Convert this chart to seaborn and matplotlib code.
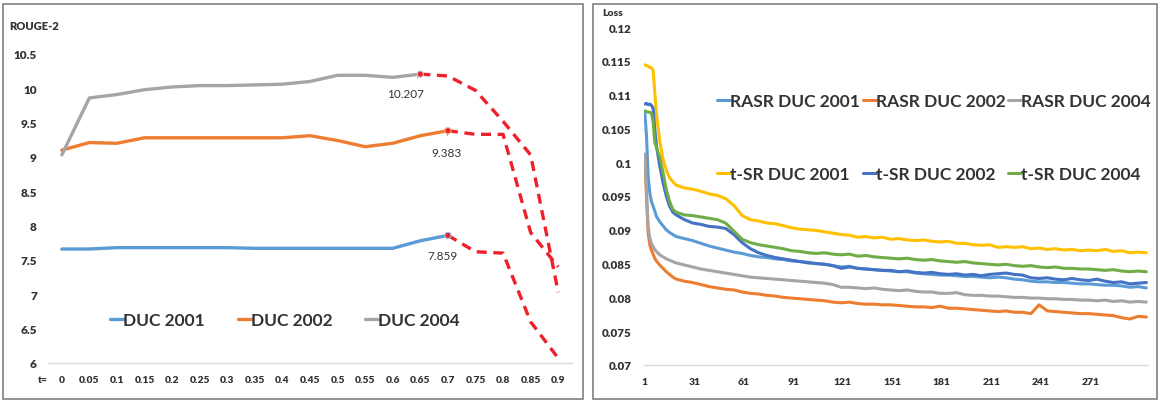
import pandas as pd
import matplotlib.pyplot as plt
from matplotlib.patches import Rectangle
import seaborn as sns

# ---- left chart: ROUGE-2 vs t ----
t_values = [0, 0.05, 0.1, 0.15, 0.2, 0.25, 0.3, 0.35, 0.4, 0.45,
            0.5, 0.55, 0.6, 0.65, 0.7, 0.75, 0.8, 0.85, 0.9]
t_labels = ["0", "0.05", "0.1", "0.15", "0.2", "0.25", "0.3", "0.35", "0.4", "0.45",
            "0.5", "0.55", "0.6", "0.65", "0.7", "0.75", "0.8", "0.85", "0.9"]

duc2001 = [7.66, 7.66, 7.68, 7.68, 7.68, 7.68, 7.68, 7.67, 7.67, 7.67,
           7.67, 7.67, 7.67, 7.78, 7.859]
duc2002 = [9.10, 9.21, 9.20, 9.28, 9.28, 9.28, 9.28, 9.28, 9.28, 9.31,
           9.24, 9.15, 9.20, 9.31, 9.383]
duc2004 = [9.03, 9.86, 9.91, 9.98, 10.02, 10.04, 10.04, 10.05, 10.06, 10.10,
           10.19, 10.19, 10.16, 10.207]

# dashed continuations (from t=0.7 / t=0.65 on)
duc2001_tail = [7.859, 7.62, 7.60, 6.60, 6.07]
duc2002_tail = [9.383, 9.33, 9.33, 7.90, 7.40]
duc2004_tail = [10.207, 10.18, 9.97, 9.52, 9.03, 7.03]

# ---- right chart: loss per epoch ----
epochs = [1, 2, 3, 4, 5, 6, 7, 8, 10, 12, 14, 16, 18] + list(range(20, 306, 5))

rasr_2001 = [.1074, .1040, .0980, .0955, .0942, .0935, .0928, .0920, .0912, .0906, .0900, .0896, .0893,
             .0890, .0887, .0884, .0880, .0876, .0873, .0870, .0867, .0865, .0862,
             .0860, .0859, .0857, .0856, .0854, .0853, .0852, .0850, .0849, .0847,
             .0845, .0846, .0843, .0842, .0841, .0840, .0839, .0838, .0838, .0836,
             .0835, .0834, .0833, .0833, .0832, .0831, .0831, .0830, .0829, .0830,
             .0829, .0827, .0826, .0824, .0823, .0823, .0822, .0822, .0821, .0820,
             .0820, .0819, .0818, .0818, .0817, .0815, .0816, .0814]
rasr_2002 = [.1010, .0950, .0895, .0878, .0870, .0864, .0858, .0854, .0848, .0843, .0838, .0834, .0830,
             .0827, .0824, .0822, .0819, .0816, .0814, .0812, .0811, .0808, .0806,
             .0805, .0803, .0802, .0800, .0799, .0798, .0797, .0796, .0795, .0793,
             .0792, .0793, .0791, .0790, .0790, .0789, .0789, .0788, .0787, .0786,
             .0786, .0785, .0787, .0784, .0784, .0783, .0782, .0781, .0780, .0779,
             .0780, .0778, .0778, .0776, .0789, .0780, .0779, .0778, .0777, .0776,
             .0776, .0775, .0774, .0773, .0770, .0768, .0772, .0771]
rasr_2004 = [.1012, .0960, .0905, .0888, .0880, .0875, .0871, .0868, .0863, .0860, .0857, .0855, .0853,
             .0851, .0848, .0845, .0842, .0840, .0838, .0836, .0834, .0832, .0830,
             .0829, .0828, .0827, .0826, .0825, .0824, .0823, .0822, .0821, .0819,
             .0815, .0815, .0814, .0813, .0814, .0812, .0811, .0810, .0811, .0809,
             .0808, .0808, .0806, .0806, .0807, .0804, .0803, .0803, .0802, .0802,
             .0801, .0800, .0800, .0799, .0799, .0798, .0798, .0797, .0797, .0796,
             .0796, .0795, .0796, .0794, .0795, .0793, .0794, .0793]
tsr_2001 = [.1144, .1143, .1142, .1140, .1140, .1136, .1105, .1072, .1032, .1005, .0988, .0977, .0971,
            .0966, .0962, .0960, .0957, .0953, .0951, .0946, .0936, .0921, .0915,
            .0913, .0910, .0909, .0906, .0903, .0901, .0900, .0899, .0897, .0895,
            .0893, .0892, .0889, .0890, .0888, .0889, .0886, .0887, .0885, .0884,
            .0885, .0883, .0882, .0883, .0880, .0880, .0878, .0877, .0878, .0874,
            .0875, .0874, .0875, .0872, .0873, .0871, .0872, .0870, .0871, .0869,
            .0870, .0869, .0871, .0868, .0869, .0866, .0867, .0866]
tsr_2002 = [.1086, .1087, .1085, .1086, .1084, .1080, .1050, .1025, .0995, .0970, .0950, .0935, .0926,
            .0922, .0915, .0910, .0908, .0905, .0904, .0902, .0893, .0881, .0872,
            .0866, .0862, .0859, .0857, .0855, .0853, .0851, .0850, .0849, .0847,
            .0843, .0845, .0843, .0842, .0841, .0840, .0840, .0838, .0839, .0837,
            .0836, .0837, .0835, .0834, .0835, .0833, .0834, .0832, .0834, .0835,
            .0836, .0834, .0833, .0829, .0828, .0829, .0827, .0826, .0828, .0826,
            .0825, .0827, .0824, .0822, .0823, .0820, .0821, .0822]
tsr_2004 = [.1076, .1075, .1074, .1074, .1072, .1060, .1030, .1022, .1008, .0985, .0960, .0942, .0930,
            .0926, .0922, .0921, .0919, .0917, .0915, .0910, .0898, .0886, .0881,
            .0878, .0876, .0874, .0872, .0869, .0868, .0866, .0865, .0866, .0864,
            .0863, .0864, .0861, .0862, .0860, .0859, .0858, .0857, .0858, .0856,
            .0855, .0856, .0854, .0853, .0852, .0853, .0851, .0850, .0849, .0848,
            .0849, .0847, .0846, .0847, .0845, .0844, .0845, .0843, .0843, .0842,
            .0842, .0841, .0840, .0841, .0839, .0838, .0839, .0838]
loss_ticks = [1, 31, 61, 91, 121, 151, 181, 211, 241, 271]

BLUE, ORANGE, GRAY = "#5B9BD5", "#ED7D31", "#A5A5A5"
YELLOW, DARKBLUE, GREEN = "#FFC000", "#4472C4", "#70AD47"
RED = "#F0202A"
TXT = "#333333"
HEAVY = "heavy"

sns.set_theme(style="white")
plt.rcParams["font.family"] = ["Lato", "DejaVu Sans"]

W, H = 1159, 402
fig = plt.figure(figsize=(W / 100, H / 100), dpi=100)


def px_axes(x0, y0, x1, y1):
    return fig.add_axes([x0 / W, 1 - y1 / H, (x1 - x0) / W, (y1 - y0) / H])


for x0, x1 in [(3, 583), (593, 1157)]:
    fig.patches.append(Rectangle((x0 / W, 2 / H), (x1 - x0) / W, 395 / H,
                                 transform=fig.transFigure, fill=False,
                                 edgecolor="#8a8a8a", linewidth=1.3))


def style_axes(ax, size_x, size_y, pad_x, pad_y):
    for side in ["top", "right", "left"]:
        ax.spines[side].set_visible(False)
    ax.spines["bottom"].set_color("#d9d9d9")
    ax.spines["bottom"].set_linewidth(1.0)
    ax.tick_params(length=0, colors=TXT)
    ax.tick_params(axis="x", pad=pad_x, labelsize=size_x)
    ax.tick_params(axis="y", pad=pad_y, labelsize=size_y)
    ax.set_xlabel("")
    ax.set_ylabel("")


# ---------- left ----------
ax1 = px_axes(48, 55, 572, 364)
lw = 2.4
sns.lineplot(x=t_values[:len(duc2001)], y=duc2001, color=BLUE, linewidth=lw, label="DUC 2001", ax=ax1)
sns.lineplot(x=t_values[:len(duc2002)], y=duc2002, color=ORANGE, linewidth=lw, label="DUC 2002", ax=ax1)
sns.lineplot(x=t_values[:len(duc2004)], y=duc2004, color=GRAY, linewidth=lw, label="DUC 2004", ax=ax1)

dash = (0, (3, 2))
sns.lineplot(x=t_values[-len(duc2001_tail):], y=duc2001_tail, color=RED, linewidth=lw, linestyle=dash, ax=ax1)
sns.lineplot(x=t_values[-len(duc2002_tail):], y=duc2002_tail, color=RED, linewidth=lw, linestyle=dash, ax=ax1)
sns.lineplot(x=t_values[-len(duc2004_tail):], y=duc2004_tail, color=RED, linewidth=lw, linestyle=dash, ax=ax1)

ends = pd.DataFrame({"t": [0.7, 0.7, 0.65], "v": [duc2001[-1], duc2002[-1], duc2004[-1]]})
sns.scatterplot(data=ends, x="t", y="v", s=20, color=RED, edgecolor=["#9dc3e6", "#f4b183", "#c9c9c9"],
                linewidth=0.8, zorder=5, ax=ax1, legend=False)

for (px, py), (tx, ty), txt in [((0.65, 10.207), (0.624, 9.93), "10.207"),
                                ((0.7, 9.383), (0.697, 9.06), "9.383"),
                                ((0.7, 7.859), (0.69, 7.56), "7.859")]:
    ax1.annotate(txt, xy=(px, py), xytext=(tx, ty), ha="center", va="center",
                 fontsize=8.5, color=TXT,
                 arrowprops=dict(arrowstyle="-", color="#a6a6a6", lw=0.8, shrinkA=6, shrinkB=2))

ax1.set_xlim(-0.025, 0.925)
ax1.set_ylim(6, 10.5)
style_axes(ax1, 7.4, 8.5, 9, 8)
ax1.set_xticks(t_values, t_labels)
ax1.set_yticks([6, 6.5, 7, 7.5, 8, 8.5, 9, 9.5, 10, 10.5],
               ["6", "6.5", "7", "7.5", "8", "8.5", "9", "9.5", "10", "10.5"])

leg1 = ax1.legend(loc="upper left", bbox_to_anchor=(0.118, 0.165), ncol=3, frameon=False,
                  handlelength=0.75, handletextpad=0.0, columnspacing=1.9,
                  borderpad=0, borderaxespad=0,
                  prop={"size": 12.5, "weight": "bold"})
for t in leg1.get_texts():
    t.set_color(TXT)

fig.text(9 / W, 1 - 27 / H, "ROUGE-2", fontsize=8, fontweight=HEAVY, color=TXT, va="center")
fig.text(43 / W, 1 - 381 / H, "t=", fontsize=7.5, fontweight=HEAVY, color=TXT, va="center", ha="center")

# ---------- right ----------
ax2 = px_axes(644, 28, 1148, 366)
lw2 = 2.2
series = [(rasr_2001, BLUE, "RASR DUC 2001"), (rasr_2002, ORANGE, "RASR DUC 2002"),
          (rasr_2004, GRAY, "RASR DUC 2004"), (tsr_2001, YELLOW, "t-SR DUC 2001"),
          (tsr_2002, DARKBLUE, "t-SR DUC 2002"), (tsr_2004, GREEN, "t-SR DUC 2004")]
for vals, col, name in series:
    sns.lineplot(x=epochs, y=vals, color=col, linewidth=lw2, label=name, ax=ax2)

ax2.set_xlim(0.5, 306)
ax2.set_ylim(0.07, 0.12)
style_axes(ax2, 7.5, 8.3, 9, 9)
ax2.set_xticks(loss_ticks, [str(v) for v in loss_ticks])
yt = [0.07, 0.075, 0.08, 0.085, 0.09, 0.095, 0.1, 0.105, 0.11, 0.115, 0.12]
ax2.set_yticks(yt, [f"{v:g}" for v in yt])

h, l = ax2.get_legend_handles_labels()
order = [0, 3, 1, 4, 2, 5]
leg2 = ax2.legend([h[i] for i in order], [l[i] for i in order], loc="upper left",
                  bbox_to_anchor=(0.145, 0.805), ncol=3, frameon=False,
                  handlelength=0.75, handletextpad=0.0, columnspacing=0.15,
                  labelspacing=3.3, borderpad=0, borderaxespad=0,
                  prop={"size": 12.5, "weight": "bold"})
for t in leg2.get_texts():
    t.set_color(TXT)

fig.text(602 / W, 1 - 13 / H, "Loss", fontsize=7.5, fontweight=HEAVY, color=TXT, va="center")

for ax in (ax1, ax2):
    for lab in ax.get_xticklabels() + ax.get_yticklabels():
        lab.set_fontweight(HEAVY)

fig.savefig("out.png", dpi=100)
